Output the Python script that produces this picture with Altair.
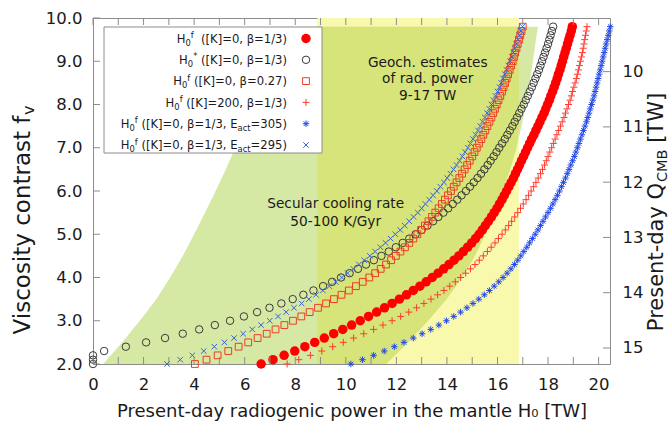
import altair as alt
import pandas as pd

# ---------------- data ----------------
FV = [2.0, 2.1, 2.2, 2.3, 2.4, 2.5, 2.6, 2.7, 2.8, 2.9,
      3.0, 3.1, 3.2, 3.3, 3.4, 3.5, 3.6, 3.7, 3.8, 3.9,
      4.0, 4.1, 4.2, 4.3, 4.4, 4.5, 4.6, 4.7, 4.8, 4.9,
      5.0, 5.1, 5.2, 5.3, 5.4, 5.5, 5.6, 5.7, 5.8, 5.9,
      6.0, 6.1, 6.2, 6.3, 6.4, 6.5, 6.6, 6.7, 6.8, 6.9,
      7.0, 7.1, 7.2, 7.3, 7.4, 7.5, 7.6, 7.7, 7.8, 7.9,
      8.0, 8.1, 8.2, 8.3, 8.4, 8.5, 8.6, 8.7, 8.8, 8.9,
      9.0, 9.1, 9.2, 9.3, 9.4, 9.5, 9.6, 9.7, 9.8]

# H0^f ([K]=0, beta=1/3)  red filled circles
H_F = [6.65, 7.12, 7.56, 7.98, 8.38, 8.77, 9.15, 9.52, 9.88, 10.23,
       10.57, 10.9, 11.22, 11.53, 11.83, 12.12, 12.4, 12.67, 12.93, 13.18,
       13.42, 13.65, 13.87, 14.08, 14.28, 14.47, 14.65, 14.82, 14.98, 15.13,
       15.27, 15.4, 15.52, 15.64, 15.76, 15.87, 15.98, 16.08, 16.18, 16.27,
       16.36, 16.45, 16.54, 16.63, 16.71, 16.79, 16.87, 16.95, 17.03, 17.11,
       17.19, 17.27, 17.35, 17.44, 17.52, 17.6, 17.68, 17.76, 17.84, 17.91,
       17.98, 18.05, 18.11, 18.18, 18.24, 18.3, 18.36, 18.41, 18.47, 18.52,
       18.57, 18.62, 18.67, 18.72, 18.77, 18.82, 18.87, 18.92, 18.96]
# H0^* ([K]=0, beta=1/3)  open dark circles
H_STAR = [0.0, 0.0, 0.0, 0.44, 1.3, 2.1, 2.85, 3.55, 4.2, 4.82,
          5.42, 5.97, 6.49, 6.98, 7.45, 7.9, 8.32, 8.72, 9.1, 9.46,
          9.81, 10.15, 10.48, 10.8, 11.11, 11.41, 11.7, 11.98, 12.25, 12.51,
          12.76, 13.0, 13.23, 13.45, 13.66, 13.86, 14.05, 14.23, 14.41, 14.58,
          14.75, 14.91, 15.06, 15.21, 15.35, 15.48, 15.61, 15.73, 15.85, 15.96,
          16.07, 16.18, 16.29, 16.39, 16.49, 16.59, 16.68, 16.77, 16.86, 16.95,
          17.04, 17.12, 17.2, 17.28, 17.36, 17.43, 17.5, 17.57, 17.64, 17.7,
          17.76, 17.82, 17.88, 17.94, 18.0, 18.05, 18.1, 18.15, 18.2]
# H0^f ([K]=0, beta=0.27)  open squares
H_B027 = [4.03, 4.49, 4.93, 5.35, 5.76, 6.14, 6.51, 6.87, 7.22, 7.57,
          7.91, 8.24, 8.57, 8.9, 9.22, 9.53, 9.83, 10.12, 10.4, 10.67,
          10.93, 11.16, 11.38, 11.59, 11.79, 11.98, 12.16, 12.34, 12.51, 12.67,
          12.83, 12.98, 13.13, 13.27, 13.41, 13.54, 13.67, 13.8, 13.92, 14.04,
          14.16, 14.27, 14.38, 14.49, 14.6, 14.7, 14.8, 14.9, 15.0, 15.09,
          15.18, 15.27, 15.36, 15.44, 15.52, 15.6, 15.68, 15.76, 15.83, 15.9,
          15.97, 16.04, 16.11, 16.18, 16.24, 16.3, 16.36, 16.42, 16.48, 16.54,
          16.6, 16.65, 16.7, 16.75, 16.8, 16.85, 16.9, 16.95, 17.0]
# H0^f ([K]=200, beta=1/3)  plus
H_K200 = [7.68, 8.14, 8.6, 9.05, 9.48, 9.9, 10.31, 10.71, 11.1, 11.47,
          11.83, 12.17, 12.49, 12.8, 13.09, 13.37, 13.63, 13.88, 14.11, 14.33,
          14.54, 14.74, 14.93, 15.11, 15.28, 15.44, 15.6, 15.75, 15.9, 16.04,
          16.18, 16.31, 16.44, 16.56, 16.68, 16.8, 16.91, 17.02, 17.13, 17.23,
          17.33, 17.43, 17.52, 17.61, 17.7, 17.78, 17.86, 17.93, 18.0, 18.07,
          18.14, 18.21, 18.28, 18.35, 18.42, 18.49, 18.56, 18.63, 18.69, 18.75,
          18.81, 18.87, 18.92, 18.97, 19.02, 19.07, 19.12, 19.16, 19.2, 19.24,
          19.28, 19.32, 19.36, 19.39, 19.42, 19.45, 19.48, 19.51, 19.54]
# H0^f ([K]=0, beta=1/3, Eact=305)  asterisk
H_E305 = [10.2, 10.66, 11.1, 11.52, 11.92, 12.3, 12.67, 13.02, 13.36, 13.68,
          13.98, 14.27, 14.54, 14.79, 15.03, 15.26, 15.48, 15.68, 15.87, 16.05,
          16.22, 16.38, 16.53, 16.67, 16.8, 16.92, 17.04, 17.16, 17.27, 17.38,
          17.49, 17.6, 17.7, 17.8, 17.9, 18.0, 18.1, 18.19, 18.28, 18.37,
          18.45, 18.53, 18.61, 18.69, 18.76, 18.83, 18.9, 18.97, 19.04, 19.1,
          19.16, 19.22, 19.28, 19.34, 19.4, 19.46, 19.52, 19.57, 19.62, 19.67,
          19.72, 19.77, 19.82, 19.86, 19.9, 19.94, 19.98, 20.02, 20.06, 20.1,
          20.14, 20.18, 20.22, 20.26, 20.3, 20.34, 20.38, 20.42, 20.46]
# H0^f ([K]=0, beta=1/3, Eact=295)  x
H_E295 = [2.93, 3.45, 3.93, 4.38, 4.8, 5.2, 5.58, 5.94, 6.3, 6.65,
          6.99, 7.32, 7.64, 7.95, 8.25, 8.54, 8.82, 9.09, 9.35, 9.6,
          9.84, 10.07, 10.3, 10.52, 10.73, 10.95, 11.16, 11.37, 11.57, 11.77,
          11.96, 12.15, 12.33, 12.51, 12.68, 12.85, 13.0, 13.15, 13.3, 13.45,
          13.6, 13.74, 13.88, 14.01, 14.14, 14.26, 14.38, 14.5, 14.61, 14.72,
          14.83, 14.93, 15.03, 15.13, 15.23, 15.32, 15.41, 15.5, 15.59, 15.68,
          15.76, 15.84, 15.92, 16.0, 16.08, 16.15, 16.22, 16.29, 16.36, 16.43,
          16.5, 16.57, 16.63, 16.69, 16.75, 16.81, 16.87, 16.93, 16.99]

# secular cooling band (50-100 K/Gyr): left and right edges
BAND_FV = [2.0, 2.5, 3.0, 3.5, 4.0, 4.5, 5.0, 5.5, 6.0, 6.5, 7.0, 7.5, 8.0, 8.5, 9.0, 9.5, 9.8]
BAND_LEFT = [0.4, 1.15, 1.85, 2.5, 3.05, 3.55, 4.0, 4.43, 4.85, 5.25, 5.63, 5.98, 6.3, 6.6, 6.88, 7.14, 7.3]
BAND_RIGHT = [11.6, 12.45, 13.25, 13.98, 14.6, 15.1, 15.52, 15.88, 16.2, 16.5, 16.75, 16.95, 17.12, 17.27, 17.4, 17.52, 17.6]

# geochemical estimates 9-17 TW
GEO_X = [8.87, 16.85]

X_LABELS = [0, 2, 4, 6, 8, 10, 12, 14, 16, 18, 20]
X_TICKS = [0, 1, 2, 3, 4, 5, 6, 7, 8, 9, 10, 11, 12, 13, 14, 15, 16, 17, 18, 19, 20]
Y_TICKS = [2, 3, 4, 5, 6, 7, 8, 9, 10]
Q_TICKS = [10, 11, 12, 13, 14, 15]
Q_RANGE = [15.29, 9.03]   # Q_CMB at fv=2 (bottom) and fv=10 (top)

ANNOT_X = [9.6, 9.6, 13.24, 13.24, 13.24]
ANNOT_FV = [5.70, 5.28, 8.97, 8.58, 8.19]
ANNOT_TEXT = ["Secular cooling rate", "50-100 K/Gyr", "Geoch. estimates", "of rad. power", "9-17 TW"]

# ---------------- layout / style ----------------
W, H = 517, 346
FONT = "DejaVu Sans"
TXT = "#1a1a1a"
FRAME = "#8c8c8c"

XS = alt.Scale(domain=[0, 20.45], nice=False, zero=False)
YS = alt.Scale(domain=[2, 10], nice=False, zero=False)
QS = alt.Scale(domain=Q_RANGE, nice=False, zero=False)

xaxis = alt.Axis(values=X_LABELS, format="d", ticks=False, tickSize=0, domain=False, grid=False,
                 labelPadding=25, labelBaseline="alphabetic", labelFontSize=16.5, labelFont=FONT,
                 labelColor=TXT, labelFlush=False, labelOverlap=False,
                 title="Present-day radiogenic power in the mantle H₀ [TW]", titleFont=FONT,
                 titleFontSize=18, titleFontWeight="normal", titleColor=TXT,
                 titleX=W / 2, titleY=52, titleAlign="center", titleBaseline="alphabetic")
yaxis = alt.Axis(values=Y_TICKS, format=".1f", ticks=False, tickSize=0, domain=False, grid=False,
                 labelPadding=11, labelFontSize=16.5, labelFont=FONT, labelColor=TXT,
                 labelFlush=False, labelOverlap=False, title=None)
qaxis = alt.Axis(orient="right", values=Q_TICKS, format="d", ticks=False, tickSize=0, domain=False,
                 grid=False, labelPadding=12, labelFontSize=16.5, labelFont=FONT, labelColor=TXT,
                 labelFlush=False, labelOverlap=False, title=None)


def X(f):
    return alt.X(f"{f}:Q", scale=XS, axis=xaxis)


def Y(f):
    return alt.Y(f"{f}:Q", scale=YS, axis=yaxis)


ONE = pd.DataFrame({"k": [0]})

# DejaVu Sans advance widths (units per 2048 em)
ADV = {" ": 651, "(": 799, ")": 799, "[": 799, "]": 799, "*": 1024, ",": 651, ".": 651,
       "/": 690, "=": 1716, "E": 1294, "H": 1540, "K": 1343, "a": 1255, "c": 1126,
       "f": 721, "t": 803, "β": 1300, "P": 1235, "r": 842, "e": 1260, "s": 1067,
       "n": 1298, "-": 739, "d": 1300, "y": 1212, "Q": 1612, "C": 1430, "M": 1767,
       "B": 1405, "T": 1251, "W": 2025, "V": 1401, "i": 569, "o": 1253, "v": 1212}
for _d in "0123456789":
    ADV[_d] = 1303


def tw(s, size):
    return sum(ADV.get(ch, 1200) for ch in s) / 2048.0 * size


def text_piece(s, x, y, size, angle=0):
    return alt.Chart(ONE).mark_text(text=s, font=FONT, fontSize=size, color=TXT, align="left",
                                    baseline="alphabetic", angle=angle).encode(
        x=alt.value(x), y=alt.value(y))


def rotated_title(pieces, size, sub_size, center_y, base_x):
    total = sum(tw(s, size if k == "n" else sub_size) for s, k in pieces)
    cur_y = center_y + total / 2
    layers = []
    for s, kind in pieces:
        sz = size if kind == "n" else sub_size
        lead = len(s) - len(s.lstrip(" "))
        body = s.lstrip(" ")
        bx = base_x + (0.2 * size if kind == "sub" else 0.0)
        layers.append(text_piece(body, bx, cur_y - tw(" " * lead, sz), sz, angle=270))
        cur_y -= tw(s, sz)
    return layers


# ---------------- background regions ----------------
geo_df = pd.DataFrame({"x1": [GEO_X[0]], "x2": [GEO_X[1]], "y1": [2.0], "y2": [10.0]})
yellow = alt.Chart(geo_df).mark_rect(color="#f9f9ae", opacity=1).encode(
    x=X("x1"), x2="x2", y=Y("y1"), y2="y2")

band_df = pd.DataFrame({"fv": BAND_FV, "left": BAND_LEFT, "right": BAND_RIGHT})
band_df["oleft"] = band_df["left"].clip(lower=GEO_X[0])
band_df["oright"] = band_df["right"].clip(upper=GEO_X[1])
green = alt.Chart(band_df).mark_area(orient="horizontal", color="#d5e9a5", opacity=1).encode(
    y=Y("fv"), x=X("left"), x2="right")
overlap = alt.Chart(band_df).mark_area(orient="horizontal", color="#d6e47a", opacity=1).encode(
    y=Y("fv"), x=X("oleft"), x2="oright")

# ---------------- series ----------------
PLUS = "M-1,0H1M0,-1V1"
AST = "M-1,0H1M0,-1V1M-0.72,-0.72L0.72,0.72M-0.72,0.72L0.72,-0.72"
XSH = "M-1,-1L1,1M-1,1L1,-1"

SERIES = [
    (H_F, "circle", "#ff0000", 90, True, 1.0),
    (H_STAR, "circle", "#3a3a3a", 56, False, 1.0),
    (H_B027, "square", "#ee3d24", 46, False, 1.0),
    (H_K200, PLUS, "#ff3b30", 49, False, 1.0),
    (H_E305, AST, "#2348e8", 42, False, 1.0),
    (H_E295, XSH, "#3b62d8", 30, False, 1.0),
]

series_layers = []
for vals, shape, col, size, filled, sw in SERIES:
    df = pd.DataFrame({"fv": FV, "h0": vals})
    series_layers.append(
        alt.Chart(df).mark_point(shape=shape, size=size, filled=filled, color=col,
                                 strokeWidth=sw, opacity=1).encode(x=X("h0"), y=Y("fv")))

# ---------------- inward ticks ----------------
xt_df = pd.DataFrame({"t": X_TICKS})
yt_df = pd.DataFrame({"t": Y_TICKS})
xt_bottom = alt.Chart(xt_df).mark_tick(orient="vertical", size=7, thickness=1, color=FRAME,
                                       opacity=1).encode(x=X("t"), y=alt.value(H - 3.5))
xt_top = alt.Chart(xt_df).mark_tick(orient="vertical", size=7, thickness=1, color=FRAME,
                                    opacity=1).encode(x=X("t"), y=alt.value(3.5))
yt_left = alt.Chart(yt_df).mark_tick(orient="horizontal", size=7, thickness=1, color=FRAME,
                                     opacity=1).encode(y=Y("t"), x=alt.value(3.5))

# ---------------- legend ----------------
legend_box = alt.Chart(ONE).mark_rect(fill="white", stroke=FRAME, strokeWidth=1).encode(
    x=alt.value(11), x2=alt.value(229), y=alt.value(9), y2=alt.value(135))

ROWS = [
    [("H", "n"), ("0", "sub"), ("f", "sup"), ("  ([K]=0, β=1/3)", "n")],
    [("H", "n"), ("0", "sub"), ("*", "sup"), (" ([K]=0, β=1/3)", "n")],
    [("H", "n"), ("0", "sub"), ("f", "sup"), (" ([K]=0, β=0.27)", "n")],
    [("H", "n"), ("0", "sub"), ("f", "sup"), (" ([K]=200, β=1/3)", "n")],
    [("H", "n"), ("0", "sub"), ("f", "sup"), (" ([K]=0, β=1/3, E", "n"), ("act", "sub"), ("=305)", "n")],
    [("H", "n"), ("0", "sub"), ("f", "sup"), (" ([K]=0, β=1/3, E", "n"), ("act", "sub"), ("=295)", "n")],
]
LF, LS = 11.6, 8.4
TEXT_RIGHT, SYM_X = 194, 213
legend_layers = []
for i, row in enumerate(ROWS):
    cy = 20.5 + 21.3 * i
    base = cy + 4.2
    sizes = [LF if k == "n" else LS for _, k in row]
    total = sum(tw(s, sz) for (s, _), sz in zip(row, sizes))
    cur = TEXT_RIGHT - total
    for (s, kind), sz in zip(row, sizes):
        lead = len(s) - len(s.lstrip(" "))
        body = s.lstrip(" ")
        dy = 3.0 if kind == "sub" else (-4.6 if kind == "sup" else 0.0)
        legend_layers.append(text_piece(body, cur + tw(" " * lead, sz), base + dy, sz))
        cur += tw(s, sz)
    vals, shape, col, size, filled, sw = SERIES[i]
    legend_layers.append(
        alt.Chart(ONE).mark_point(shape=shape, size=size, filled=filled, color=col,
                                  strokeWidth=sw, opacity=1).encode(x=alt.value(SYM_X), y=alt.value(cy)))

# ---------------- annotations ----------------
ann_df = pd.DataFrame({"x": ANNOT_X, "fv": ANNOT_FV, "text": ANNOT_TEXT})
annots = alt.Chart(ann_df).mark_text(font=FONT, fontSize=13.7, color=TXT, align="center",
                                     baseline="middle").encode(x=X("x"), y=Y("fv"), text="text:N")

# ---------------- axis titles drawn as rotated text (with subscripts) ----------------
left_title = rotated_title([("Viscosity contrast f", "n"), ("v", "sub")], 23, 16,
                           center_y=202, base_x=-63.5)
right_title = rotated_title([("Present-day Q", "n"), ("CMB", "sub"), (" [TW]", "n")], 21, 14.5,
                            center_y=194, base_x=569.5)

main = alt.layer(yellow, green, overlap, *series_layers, xt_bottom, xt_top, yt_left,
                 legend_box, *legend_layers, annots, *left_title, *right_title)

q_df = pd.DataFrame({"q": Q_TICKS})
q_layer = alt.Chart(q_df).mark_tick(orient="horizontal", size=7, thickness=1, color=FRAME,
                                    opacity=1).encode(
    y=alt.Y("q:Q", scale=QS, axis=qaxis), x=alt.value(W - 3.5))

chart = alt.layer(main, q_layer).resolve_scale(y="independent").properties(
    width=W, height=H,
    autosize=alt.AutoSizeParams(type="none"),
    padding={"left": 93, "top": 18, "right": 60, "bottom": 65},
).configure_view(stroke=FRAME, strokeWidth=1)

chart.save("out.html", embed_options={"renderer": "svg", "actions": False})
